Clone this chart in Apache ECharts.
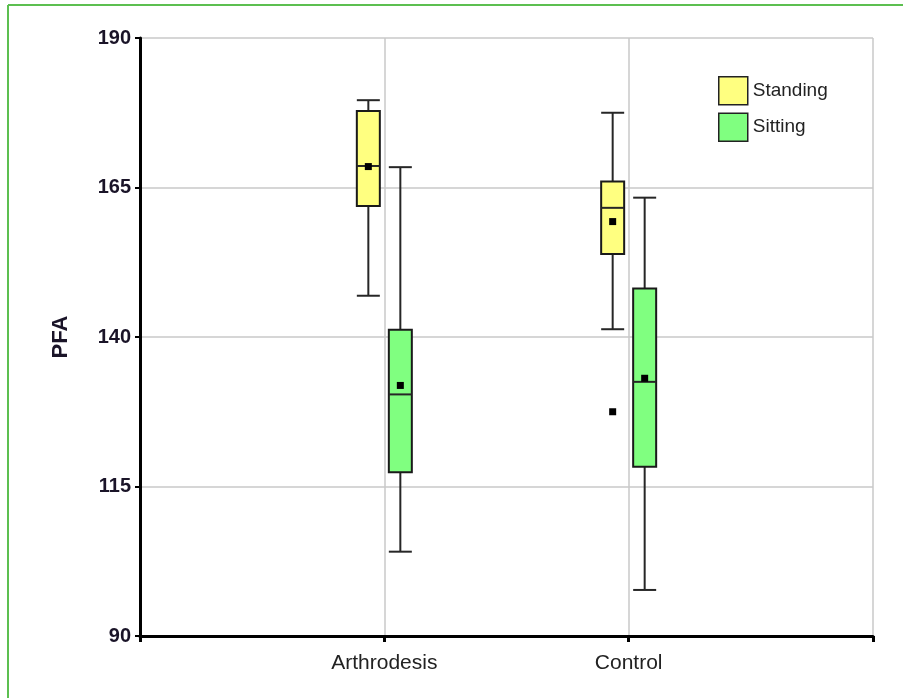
<!DOCTYPE html>
<html><head><meta charset="utf-8">
<script src="https://cdn.jsdelivr.net/npm/echarts@6/dist/echarts.min.js"></script>
<style>html,body{margin:0;padding:0;background:#fff}#c{width:903px;height:698px}</style>
</head><body><div id="c"></div>
<script>
const categories = ['Arthrodesis', 'Control'];
const yTicks = [90, 115, 140, 165, 190];
const seriesNames = ['Standing', 'Sitting'];
// [min, Q1, median, Q3, max] per category
const standingBox = [[146.9, 161.9, 168.6, 177.8, 179.6], [141.3, 153.9, 161.6, 166.0, 177.5]];
const standingMean = [168.5, 159.3];
const sittingBox = [[104.1, 117.4, 130.4, 141.2, 168.4], [97.7, 118.3, 132.5, 148.1, 163.3]];
const sittingMean = [131.9, 133.1];
// extra point drawn in the Control / Standing column
const standingExtraPoints = [[1, 127.5]];

const fills = ['#ffff80', '#80ff80'];
const offsets = [-16, 16];

function makeRender(offset, fill) {
  return function (params, api) {
    const x = api.value(0);
    const p = i => api.coord([x, api.value(i)]);
    const cx = p(1)[0] + offset;
    const yMin = p(1)[1], yQ1 = p(2)[1], yMed = p(3)[1], yQ3 = p(4)[1], yMax = p(5)[1], yMean = p(6)[1];
    const hw = 11.5;
    const ln = { stroke: '#262626', lineWidth: 2 };
    return {
      type: 'group', children: [
        { type: 'line', shape: { x1: cx, y1: yMax, x2: cx, y2: yQ3 }, style: ln },
        { type: 'line', shape: { x1: cx, y1: yQ1, x2: cx, y2: yMin }, style: ln },
        { type: 'line', shape: { x1: cx - hw, y1: yMax, x2: cx + hw, y2: yMax }, style: ln },
        { type: 'line', shape: { x1: cx - hw, y1: yMin, x2: cx + hw, y2: yMin }, style: ln },
        { type: 'rect', shape: { x: cx - hw, y: yQ3, width: 2 * hw, height: yQ1 - yQ3 }, style: { fill: fill, stroke: '#1a1a1a', lineWidth: 2 } },
        { type: 'line', shape: { x1: cx - hw, y1: yMed, x2: cx + hw, y2: yMed }, style: ln },
        { type: 'rect', shape: { x: cx - 3.5, y: yMean - 3.5, width: 7, height: 7 }, style: { fill: '#000' } }
      ]
    };
  };
}

const standingData = categories.map((c, i) => [i + 1].concat(standingBox[i], [standingMean[i]]));
const sittingData = categories.map((c, i) => [i + 1].concat(sittingBox[i], [sittingMean[i]]));

const chart = echarts.init(document.getElementById('c'));
chart.setOption({
  animation: false,
  backgroundColor: '#fff',
  grid: { left: 140, right: 30, top: 38, bottom: 62 },
  legend: {
    orient: 'vertical', left: 718, top: 76, padding: 0,
    itemWidth: 29, itemHeight: 28, itemGap: 7, icon: 'rect',
    textStyle: { fontSize: 19, color: '#222', fontFamily: 'Liberation Sans' },
    data: seriesNames.map((n, i) => ({ name: n, itemStyle: { color: fills[i], borderColor: '#222', borderWidth: 1.5 } }))
  },
  xAxis: {
    type: 'value', min: 0, max: categories.length + 1, interval: 1,
    axisLine: { show: true, onZero: false, lineStyle: { color: '#000', width: 3 } },
    axisTick: { show: true, length: 6, lineStyle: { color: '#000', width: 3 } },
    axisLabel: { formatter: v => categories[v - 1] || '', fontSize: 21, color: '#222', margin: 17, fontFamily: 'Liberation Sans' },
    splitLine: { show: true, lineStyle: { color: '#c8c8c8', width: 1.5 } }
  },
  yAxis: {
    type: 'value', min: yTicks[0], max: yTicks[yTicks.length - 1], interval: yTicks[1] - yTicks[0],
    name: 'PFA', nameLocation: 'middle', nameGap: 68,
    nameTextStyle: { fontSize: 22, fontWeight: 'bold', color: '#1a1428', fontFamily: 'Liberation Sans' },
    axisLine: { show: true, lineStyle: { color: '#000', width: 3 } },
    axisTick: { show: true, length: 5, lineStyle: { color: '#000', width: 2 } },
    axisLabel: { fontSize: 20, fontWeight: 'bold', color: '#1a1428', margin: 9, fontFamily: 'Liberation Sans' },
    splitLine: { show: true, lineStyle: { color: '#c8c8c8', width: 1.5 } }
  },
  graphic: [
    { type: 'line', shape: { x1: 8, y1: 5, x2: 903, y2: 5 }, style: { stroke: '#5cbf50', lineWidth: 2 }, silent: true },
    { type: 'line', shape: { x1: 8, y1: 5, x2: 8, y2: 698 }, style: { stroke: '#5cbf50', lineWidth: 2 }, silent: true }
  ],
  series: [
    { name: seriesNames[0], type: 'custom', renderItem: makeRender(offsets[0], fills[0]), itemStyle: { color: fills[0] }, encode: { x: 0, y: [1, 2, 3, 4, 5, 6] }, data: standingData, z: 3 },
    { name: seriesNames[1], type: 'custom', renderItem: makeRender(offsets[1], fills[1]), itemStyle: { color: fills[1] }, encode: { x: 0, y: [1, 2, 3, 4, 5, 6] }, data: sittingData, z: 3 },
    { name: seriesNames[0], type: 'scatter', symbol: 'rect', symbolSize: 7, symbolOffset: [offsets[0], 0], itemStyle: { color: '#000', opacity: 1 }, data: standingExtraPoints.map(d => [d[0] + 1, d[1]]), z: 4 }
  ]
});
</script></body></html>
